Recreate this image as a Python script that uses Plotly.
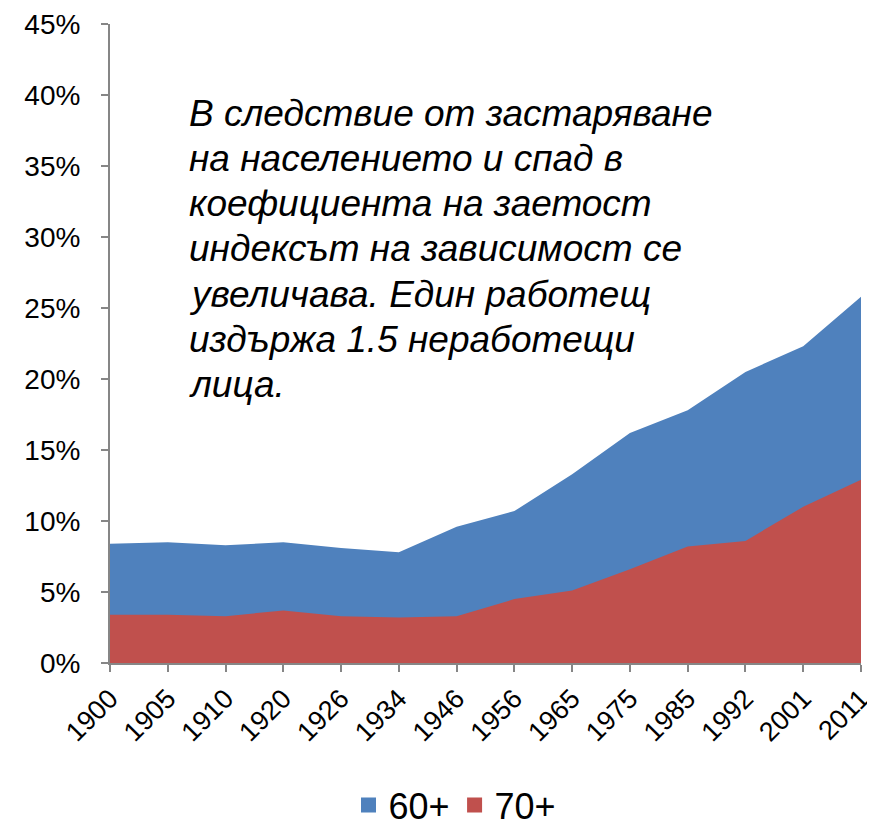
import plotly.graph_objects as go

years = ["1900", "1905", "1910", "1920", "1926", "1934", "1946", "1956",
         "1965", "1975", "1985", "1992", "2001", "2011"]
age60 = [8.4, 8.5, 8.3, 8.5, 8.1, 7.8, 9.6, 10.7, 13.3, 16.2, 17.8, 20.5, 22.3, 25.8]
age70 = [3.4, 3.4, 3.3, 3.7, 3.3, 3.2, 3.3, 4.5, 5.1, 6.6, 8.2, 8.6, 11.0, 12.9]

note_lines = [
    "В следствие от застаряване",
    "на населението и спад в",
    "коефициента на заетост",
    "индексът на зависимост се",
    "увеличава. Един работещ",
    "издържа 1.5 неработещи",
    "лица.",
]

BLUE, RED = "#4F81BD", "#C0504D"
FONT = "Liberation Sans, Arial"

fig = go.Figure()
fig.add_trace(go.Scatter(x=years, y=age60, name="60+", mode="lines",
                         line=dict(width=0, color=BLUE),
                         fill="tozeroy", fillcolor=BLUE, showlegend=False))
fig.add_trace(go.Scatter(x=years, y=age70, name="70+", mode="lines",
                         line=dict(width=0, color=RED),
                         fill="tozeroy", fillcolor=RED, showlegend=False))
# legend entries with square swatches
for name, col in (("60+", BLUE), ("70+", RED)):
    fig.add_trace(go.Scatter(x=[None], y=[None], name=name, mode="markers",
                             marker=dict(symbol="square", size=15, color=col)))

# page body has an 8px margin, so figure coordinates = page coordinates - 8
OFF = 8
W, H = 875 - OFF, 826 - OFF
ml, mr, mt, mb = 110 - OFF, 14, 24 - OFF, 163
ph = H - mt - mb
pw = W - ml - mr
line_y0 = 113 - OFF
for i, t in enumerate(note_lines):
    ypix = line_y0 + i * 45.3
    fig.add_annotation(text=t, xref="paper", yref="paper",
                       x=(187 - OFF - ml) / pw, y=(H - mb - ypix) / ph,
                       xanchor="left", yanchor="middle", showarrow=False,
                       font=dict(family=FONT, size=37,
                                 color="#000000", style="italic"))

fig.update_layout(
    width=W, height=H,
    margin=dict(l=ml, r=mr, t=mt, b=mb, autoexpand=False),
    plot_bgcolor="white", paper_bgcolor="white",
    font=dict(family=FONT, color="#000000"),
    showlegend=True,
    legend=dict(orientation="h", x=(455 - OFF - ml) / pw, xanchor="center",
                y=(H - mb - (805 - OFF)) / ph,
                yanchor="middle", font=dict(size=36), itemwidth=30,
                tracegroupgap=0),
    xaxis=dict(type="category", range=[0, len(years) - 1],
               showline=True, linecolor="#868686", linewidth=2,
               ticks="outside", ticklen=7, tickcolor="#868686", tickwidth=2,
               tickangle=-45, tickfont=dict(size=27), showgrid=False,
               zeroline=False, automargin=False, ticklabeloverflow="allow"),
    yaxis=dict(range=[0, 45], dtick=5, ticksuffix="%",
               showline=True, linecolor="#868686", linewidth=2,
               ticks="outside", ticklen=7, tickcolor="#868686", tickwidth=2,
               tickfont=dict(size=28), showgrid=False, zeroline=False,
               automargin=False, ticklabelstandoff=15,
               ticklabeloverflow="allow"),
)

fig.write_html("out.html")
